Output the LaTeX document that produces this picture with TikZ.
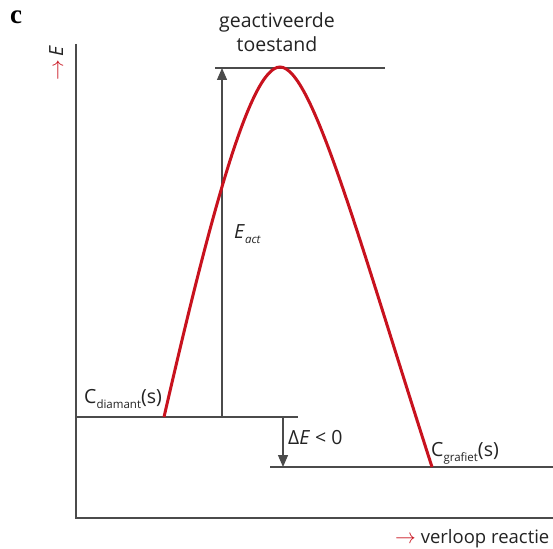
\documentclass[tikz,border=0pt]{standalone}
\usepackage{fontspec}
\setmainfont{Open Sans}
\newfontfamily\panelfont{Liberation Serif}
\usetikzlibrary{arrows.meta}
\definecolor{curvered}{RGB}{200,18,30}
\definecolor{linegray}{RGB}{75,75,75}
\definecolor{textgray}{RGB}{35,35,35}
\newcommand{\subtxt}[1]{\raisebox{-5.5pt}{\fontsize{11.5}{12}\selectfont #1}}
\newcommand{\redarr}{\textcolor{curvered}{\fontsize{22}{22}\selectfont$\rightarrow$}}
\begin{document}
\begin{tikzpicture}[x=1pt,y=-1pt,
  axisline/.style={draw=linegray,line width=1.6pt},
  levelline/.style={draw=linegray,line width=1.6pt},
  energyarrow/.style={draw=linegray,line width=1.3pt,-{Triangle[width=10pt,length=12pt]}},
  reactioncurve/.style={draw=curvered,line width=3pt},
  lbl/.style={font=\fontsize{19.5}{23}\selectfont,text=textgray,inner sep=0pt}]
\useasboundingbox (0,0) rectangle (553,548);
% coordinates
\coordinate (yaxtop) at (76,44);
\coordinate (origin) at (76,518);
\coordinate (xaxend) at (553,518);
\coordinate (topL) at (215,68);
\coordinate (topR) at (385,68);
\coordinate (diaL) at (76,417);
\coordinate (diaR) at (298,417);
\coordinate (graL) at (270,467);
\coordinate (graR) at (553,467);
\coordinate (eactbot) at (222,417);
\coordinate (eacttop) at (222,68);
\coordinate (dEtop) at (283,417);
\coordinate (dEbot) at (283,467);
\coordinate (cstart) at (164,417);
\coordinate (cpeak) at (280,67);
\coordinate (cend) at (432,467);
% axes
\draw[axisline] (yaxtop) -- (origin) -- (xaxend);
% levels
\draw[levelline] (topL) -- (topR);
\draw[levelline] (diaL) -- (diaR);
\draw[levelline] (graL) -- (graR);
% arrows
\draw[energyarrow] (eactbot) -- (eacttop);
\draw[energyarrow] (dEtop) -- (dEbot);
% curve
\draw[reactioncurve] (cstart) .. controls (210,217) and (250,67) .. (cpeak)
  .. controls (312,67) and (358,237) .. (cend);
% labels
\node[font=\panelfont\bfseries\fontsize{27}{28}\selectfont,anchor=base west,inner sep=0pt] (panel) at (10,24) {c};
\node[lbl,rotate=90,anchor=base west] (elabel) at (63,81) {\redarr\,\textit{E}};
\node[lbl,anchor=base] (ts1) at (277,28) {geactiveerde};
\node[lbl,anchor=base] (ts2) at (277,52) {toestand};
\node[lbl,anchor=base west] (dia) at (84,403) {C\subtxt{diamant}(s)};
\node[lbl,anchor=base west] (gra) at (431,456) {C\subtxt{grafiet}(s)};
\node[lbl,anchor=base west] (eact) at (234,238) {\textit{E}\subtxt{\itshape act}};
\node[lbl,anchor=base west] (dE) at (288,444) {Δ\textit{E} < 0};
\node[lbl,anchor=base west,font=\fontsize{18.5}{22}\selectfont] (xlabel) at (395,543) {\redarr\ verloop reactie};
\end{tikzpicture}
\end{document}
